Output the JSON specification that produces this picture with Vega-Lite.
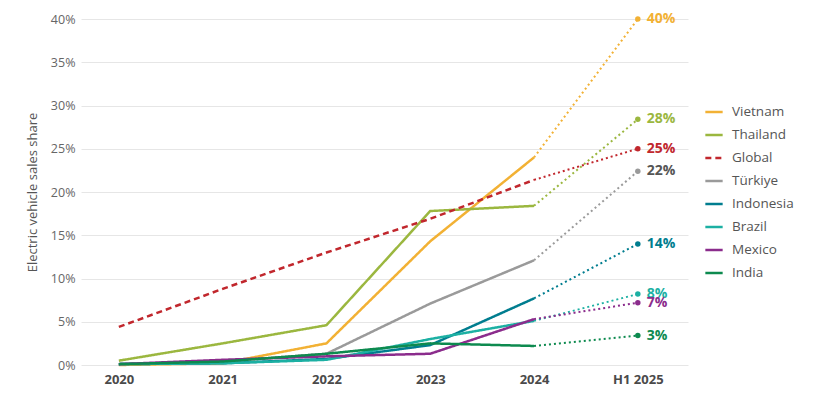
{
  "$schema": "https://vega.github.io/schema/vega-lite/v6.json",
  "width": 607,
  "height": 346,
  "padding": {"left": 26, "top": 12, "right": 5, "bottom": 5},
  "config": {
    "font": "Open Sans",
    "view": {"stroke": null},
    "axis": {"labelFont": "Open Sans", "titleFont": "Open Sans"},
    "legend": {"labelFont": "Open Sans"}
  },
  "data": {
    "values": [
      {"series": "Vietnam", "year": "2020", "value": 0.000},
      {"series": "Vietnam", "year": "2021", "value": 0.002},
      {"series": "Vietnam", "year": "2022", "value": 0.025},
      {"series": "Vietnam", "year": "2023", "value": 0.143},
      {"series": "Vietnam", "year": "2024", "value": 0.240},
      {"series": "Vietnam", "year": "H1 2025", "value": 0.400},
      {"series": "Thailand", "year": "2020", "value": 0.005},
      {"series": "Thailand", "year": "2021", "value": 0.025},
      {"series": "Thailand", "year": "2022", "value": 0.046},
      {"series": "Thailand", "year": "2023", "value": 0.178},
      {"series": "Thailand", "year": "2024", "value": 0.184},
      {"series": "Thailand", "year": "H1 2025", "value": 0.284},
      {"series": "Global", "year": "2020", "value": 0.044},
      {"series": "Global", "year": "2021", "value": 0.088},
      {"series": "Global", "year": "2022", "value": 0.130},
      {"series": "Global", "year": "2023", "value": 0.169},
      {"series": "Global", "year": "2024", "value": 0.214},
      {"series": "Global", "year": "H1 2025", "value": 0.250},
      {"series": "Türkiye", "year": "2020", "value": 0.001},
      {"series": "Türkiye", "year": "2021", "value": 0.004},
      {"series": "Türkiye", "year": "2022", "value": 0.013},
      {"series": "Türkiye", "year": "2023", "value": 0.071},
      {"series": "Türkiye", "year": "2024", "value": 0.121},
      {"series": "Türkiye", "year": "H1 2025", "value": 0.224},
      {"series": "Indonesia", "year": "2020", "value": 0.001},
      {"series": "Indonesia", "year": "2021", "value": 0.002},
      {"series": "Indonesia", "year": "2022", "value": 0.007},
      {"series": "Indonesia", "year": "2023", "value": 0.023},
      {"series": "Indonesia", "year": "2024", "value": 0.077},
      {"series": "Indonesia", "year": "H1 2025", "value": 0.140},
      {"series": "Brazil", "year": "2020", "value": 0.001},
      {"series": "Brazil", "year": "2021", "value": 0.002},
      {"series": "Brazil", "year": "2022", "value": 0.006},
      {"series": "Brazil", "year": "2023", "value": 0.030},
      {"series": "Brazil", "year": "2024", "value": 0.051},
      {"series": "Brazil", "year": "H1 2025", "value": 0.082},
      {"series": "Mexico", "year": "2020", "value": 0.001},
      {"series": "Mexico", "year": "2021", "value": 0.006},
      {"series": "Mexico", "year": "2022", "value": 0.010},
      {"series": "Mexico", "year": "2023", "value": 0.013},
      {"series": "Mexico", "year": "2024", "value": 0.053},
      {"series": "Mexico", "year": "H1 2025", "value": 0.072},
      {"series": "India", "year": "2020", "value": 0.001},
      {"series": "India", "year": "2021", "value": 0.004},
      {"series": "India", "year": "2022", "value": 0.013},
      {"series": "India", "year": "2023", "value": 0.025},
      {"series": "India", "year": "2024", "value": 0.022},
      {"series": "India", "year": "H1 2025", "value": 0.034}
    ]
  },
  "encoding": {
    "x": {
      "field": "year", "type": "ordinal",
      "scale": {"type": "point", "padding": 0.424, "align": 0.43},
      "sort": ["2020", "2021", "2022", "2023", "2024", "H1 2025"],
      "axis": {"title": null, "labelAngle": 0, "domain": false, "ticks": false, "labelFontSize": 13, "labelFontWeight": "bold", "labelColor": "#4a4a4a", "labelPadding": 8}
    },
    "y": {
      "field": "value", "type": "quantitative",
      "scale": {"domain": [0, 0.4], "nice": false},
      "axis": {"title": "Electric vehicle sales share", "format": ".0%", "values": [0, 0.05, 0.1, 0.15, 0.2, 0.25, 0.3, 0.35, 0.4], "domain": false, "ticks": false, "labelFontSize": 12.5, "labelColor": "#666666", "labelPadding": 6, "titleFontSize": 13, "titleFontWeight": "normal", "titleColor": "#555555", "titlePadding": 11, "gridColor": "#e6e6e6", "gridWidth": 1}
    }
  },
  "layer": [
    {
      "transform": [{"filter": "datum.year != 'H1 2025'"}],
      "mark": {"type": "line", "strokeWidth": 2.5},
      "encoding": {
        "color": {
          "field": "series", "type": "nominal",
          "scale": {
            "domain": ["Vietnam", "Thailand", "Global", "Türkiye", "Indonesia", "Brazil", "Mexico", "India"],
            "range": ["#f2b134", "#9bb73f", "#c1272d", "#9a9a9a", "#007d8f", "#1cb0a3", "#8b2c8c", "#0d8a4f"]
          },
          "legend": {"title": null, "orient": "none", "legendX": 623, "legendY": 83, "symbolType": "stroke", "symbolStrokeWidth": 2.5, "symbolSize": 300, "labelFontSize": 13.5, "labelColor": "#555555", "rowPadding": 6, "labelOffset": 8}
        },
        "strokeDash": {
          "field": "series", "type": "nominal",
          "scale": {
            "domain": ["Vietnam", "Thailand", "Global", "Türkiye", "Indonesia", "Brazil", "Mexico", "India"],
            "range": [[1, 0], [1, 0], [6, 4], [1, 0], [1, 0], [1, 0], [1, 0], [1, 0]]
          },
          "legend": {"title": null, "orient": "none", "legendX": 623, "legendY": 83, "symbolType": "stroke", "symbolStrokeWidth": 2.5, "symbolSize": 300, "labelFontSize": 13.5, "labelColor": "#555555", "rowPadding": 6, "labelOffset": 8}
        }
      }
    },
    {
      "transform": [{"filter": "datum.year == '2024' || datum.year == 'H1 2025'"}],
      "mark": {"type": "line", "strokeWidth": 2, "strokeDash": [2, 3]},
      "encoding": {
        "color": {"field": "series", "type": "nominal"},
        "detail": {"field": "series"}
      }
    },
    {
      "transform": [{"filter": "datum.year == 'H1 2025'"}],
      "mark": {"type": "point", "filled": true, "size": 30, "opacity": 1},
      "encoding": {
        "color": {"field": "series", "type": "nominal"}
      }
    },
    {
      "transform": [{"filter": "datum.year == 'H1 2025'"}],
      "mark": {"type": "text", "align": "left", "baseline": "middle", "dx": 9, "fontSize": 14, "fontWeight": "bold"},
      "encoding": {
        "text": {"field": "value", "type": "quantitative", "format": ".0%"},
        "fill": {
          "field": "series", "type": "nominal", "legend": null,
          "scale": {
            "domain": ["Vietnam", "Thailand", "Global", "Türkiye", "Indonesia", "Brazil", "Mexico", "India"],
            "range": ["#f2b134", "#9bb73f", "#c1272d", "#555555", "#007d8f", "#1cb0a3", "#8b2c8c", "#0d8a4f"]
          }
        }
      }
    }
  ]
}
